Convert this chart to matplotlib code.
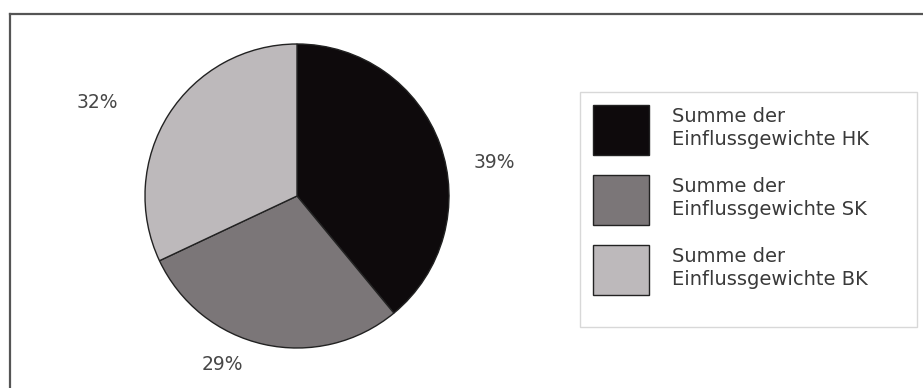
import matplotlib
matplotlib.use("Agg")
import matplotlib.pyplot as plt
from matplotlib.lines import Line2D
from matplotlib.patches import Rectangle
import numpy as np

plt.rcParams['font.family'] = ['DejaVu Sans']

labels = ["Summe der\nEinflussgewichte HK",
          "Summe der\nEinflussgewichte SK",
          "Summe der\nEinflussgewichte BK"]
values = [39, 29, 32]
colors = ["#0e0a0c", "#7b7678", "#bdb9bb"]
# label placement (radius factor, angle in degrees) per slice
label_pos = [(1.32, 9.7), (1.21, 246.0), (1.45, 155.0)]

W, H = 923, 388
fig = plt.figure(figsize=(W / 100, H / 100), dpi=100)

# outer frame (top and left edges only visible)
fig.add_artist(Line2D([10 / W, 1.0], [1 - 14 / H, 1 - 14 / H], color="#555555", lw=1.6,
                      transform=fig.transFigure))
fig.add_artist(Line2D([10 / W, 10 / W], [0.0, 1 - 14 / H], color="#555555", lw=1.6,
                      transform=fig.transFigure))

cx, cy, r = 297, 196, 152
ax = fig.add_axes([(cx - r) / W, (H - cy - r) / H, 2 * r / W, 2 * r / H])
wedges, _ = ax.pie(values, colors=colors, startangle=90, counterclock=False,
                   wedgeprops=dict(edgecolor="#222222", linewidth=1.0))
ax.set_aspect("equal")
ax.set_xlim(-1, 1)
ax.set_ylim(-1, 1)
ax.axis("off")

for v, (rf, ang) in zip(values, label_pos):
    ax.text(rf * np.cos(np.radians(ang)), rf * np.sin(np.radians(ang)), f"{v}%",
            ha="center", va="center", fontsize=13.5, color="#474747", clip_on=False)

# legend frame
fig.add_artist(Rectangle((580 / W, 1 - 327 / H), 337 / W, 235 / H, transform=fig.transFigure,
                         facecolor="white", edgecolor="#d8d8d8", linewidth=1.0))

fs = 14
leg = fig.legend(wedges, labels, loc="upper left",
                 bbox_to_anchor=(593 / W, 1 - 105 / H),
                 fontsize=fs, frameon=False,
                 handlelength=2.88, handleheight=3.58, handletextpad=1.2,
                 labelspacing=1.03, borderpad=0.0, borderaxespad=0)
for t in leg.get_texts():
    t.set_color("#3a3a3a")
    t.set_linespacing(1.3)

fig.savefig("out.png", dpi=100)
